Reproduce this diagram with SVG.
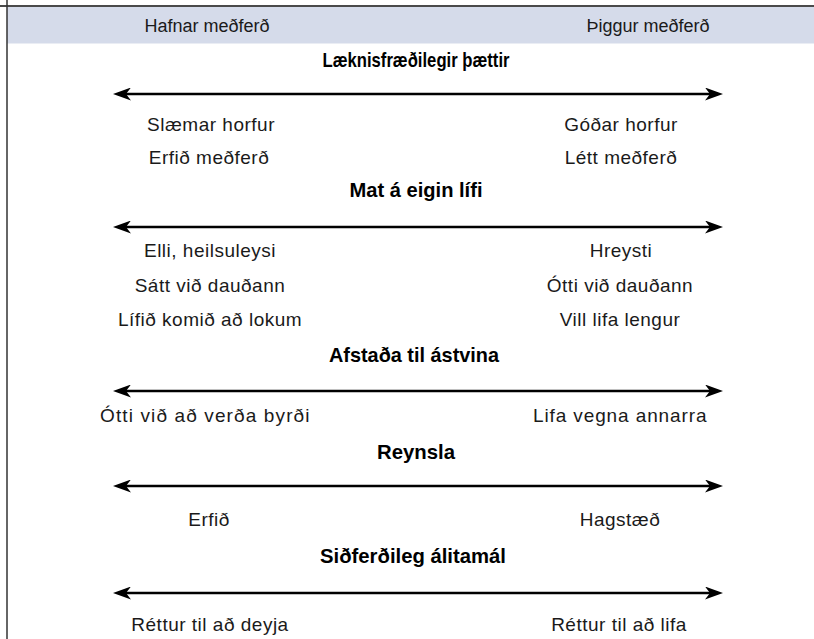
<svg xmlns="http://www.w3.org/2000/svg" width="814" height="639" viewBox="0 0 814 639">
<defs>
<style>
.hd{font-family:"Liberation Sans",Arial,sans-serif;font-size:18px;fill:#1a1a1a;text-anchor:middle}
.tx{font-family:"Liberation Sans",Arial,sans-serif;font-size:19px;fill:#1a1a1a;text-anchor:middle;letter-spacing:0.5px}
.tt{font-family:"Liberation Sans",Arial,sans-serif;font-size:21px;font-weight:bold;fill:#000;text-anchor:middle}
.ax{stroke:#000;stroke-width:2.6;fill:none;marker-start:url(#ah);marker-end:url(#ah)}
</style>
<marker id="ah" markerUnits="userSpaceOnUse" markerWidth="18" markerHeight="13" refX="13" refY="6.5" orient="auto-start-reverse" viewBox="0 0 18 13">
<path d="M18,6.5 L0,0 L5,6.5 L0,13 Z" fill="#000"/>
</marker>
</defs>
<rect width="814" height="639" fill="#fff"/>
<g id="frame">
<rect x="7" y="7" width="807" height="36.5" fill="#d5dbea"/>
<line x1="0" y1="6" x2="814" y2="6" stroke="#4a4a4a" stroke-width="2"/>
<line x1="7" y1="0" x2="7" y2="639" stroke="#333" stroke-width="1.5"/>
</g>
<g id="header">
<text class="hd" x="207" y="32">Hafnar meðferð</text>
<text class="hd" x="648" y="32">Þiggur meðferð</text>
</g>
<g id="connectors">
<line class="ax" x1="118" y1="94" x2="718" y2="94"/>
<line class="ax" x1="118" y1="227" x2="718" y2="227"/>
<line class="ax" x1="118" y1="391" x2="718" y2="391"/>
<line class="ax" x1="118" y1="486" x2="718" y2="486"/>
<line class="ax" x1="118" y1="593" x2="718" y2="593"/>
</g>
<g id="s1">
<text class="tt" x="416" y="67" textLength="187" lengthAdjust="spacingAndGlyphs">Læknisfræðilegir þættir</text>
<text class="tx" x="211" y="131">Slæmar horfur</text>
<text class="tx" x="621" y="131">Góðar horfur</text>
<text class="tx" x="209" y="164">Erfið meðferð</text>
<text class="tx" x="621" y="164">Létt meðferð</text>
</g>
<g id="s2">
<text class="tt" x="416" y="197" textLength="133" lengthAdjust="spacingAndGlyphs">Mat á eigin lífi</text>
<text class="tx" x="210" y="257">Elli, heilsuleysi</text>
<text class="tx" x="621" y="257">Hreysti</text>
<text class="tx" x="210" y="292">Sátt við dauðann</text>
<text class="tx" x="620" y="292">Ótti við dauðann</text>
<text class="tx" x="210" y="326">Lífið komið að lokum</text>
<text class="tx" x="620" y="326">Vill lifa lengur</text>
</g>
<g id="s3">
<text class="tt" x="414" y="362" textLength="170" lengthAdjust="spacingAndGlyphs">Afstaða til ástvina</text>
<text class="tx" x="205" y="422" textLength="210">Ótti við að verða byrði</text>
<text class="tx" x="620" y="422" textLength="174">Lifa vegna annarra</text>
</g>
<g id="s4">
<text class="tt" x="416" y="459" textLength="78" lengthAdjust="spacingAndGlyphs">Reynsla</text>
<text class="tx" x="209" y="526">Erfið</text>
<text class="tx" x="620" y="526">Hagstæð</text>
</g>
<g id="s5">
<text class="tt" x="413" y="563" textLength="186" lengthAdjust="spacingAndGlyphs">Siðferðileg álitamál</text>
<text class="tx" x="210" y="631">Réttur til að deyja</text>
<text class="tx" x="619" y="631">Réttur til að lifa</text>
</g>
</svg>
